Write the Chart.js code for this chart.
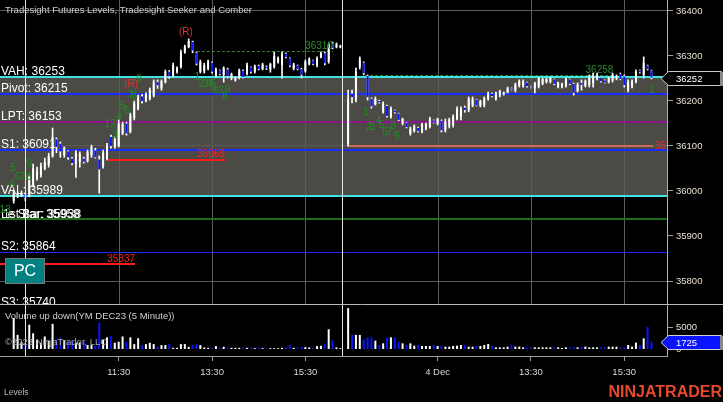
<!DOCTYPE html>
<html>
<head>
<meta charset="utf-8">
<script src="https://cdn.jsdelivr.net/npm/chart.js@4.4.1/dist/chart.umd.min.js"></script>
<style>
  html, body { margin: 0; padding: 0; background: #000; overflow: hidden; }
  canvas { display: block; }
</style>
</head>
<body>
<canvas id="chart" width="723" height="402"></canvas>
<script>
// YM DEC23, 5 minute bars, two sessions (bar index 24 = 11:30 of day one)
const sessions = [[-3, 81], [83, 161]];

const opens = [
  35978,35990,35990,35993,35988,36012,36028,36035,36050,36058,36078,36115,36105,36080,36088,36072,36060,36065,36072,36067,
  36080,36090,36070,36055,36072,36120,36098,36100,36128,36150,36132,36162,36183,36210,36200,36205,36212,36242,36228,36242,
  36265,36256,36265,36276,36308,36320,36331,36307,36265,36266,36272,36285,36256,36268,36258,36270,36250,36246,36251,36267,
  36260,36275,36265,36278,36271,36276,36270,36276,36286,36280,36305,36295,36272,36279,36271,36266,36283,36290,36280,36297,
  36306,36287,36328,36320,36320,
  36105,36216,36202,36275,36285,36256,36205,36193,36200,36176,36189,36165,36179,36172,36150,36152,36127,36133,36140,36131,
  36138,36142,36157,36150,36156,36135,36145,36147,36160,36165,36185,36180,36190,36203,36190,36192,36205,36216,36205,36212,
  36215,36219,36228,36224,36235,36234,36241,36232,36228,36232,36238,36242,36243,36248,36231,36232,36234,36248,36238,36222,
  36240,36234,36236,36240,36250,36252,36246,36242,36245,36250,36260,36255,36225,36232,36244,36268,36258,36279,36268
];
const highs = [
  36000,35998,36000,35995,36035,36060,36053,36062,36073,36084,36140,36118,36109,36098,36090,36075,36090,36087,36075,36091,
  36102,36095,36078,36091,36106,36124,36120,36158,36153,36153,36173,36200,36213,36215,36218,36229,36247,36247,36247,36269,
  36268,36284,36276,36313,36324,36338,36333,36309,36291,36284,36291,36287,36273,36269,36276,36273,36262,36253,36271,36269,
  36284,36276,36280,36280,36284,36278,36284,36309,36298,36309,36307,36296,36284,36280,36273,36291,36296,36291,36298,36309,
  36309,36329,36331,36329,36324,
  36224,36224,36273,36298,36287,36258,36207,36209,36202,36198,36191,36187,36180,36173,36162,36153,36142,36147,36142,36151,
  36151,36164,36158,36162,36158,36160,36162,36169,36187,36187,36189,36209,36209,36204,36202,36209,36220,36218,36220,36224,
  36220,36231,36229,36240,36247,36247,36242,36233,36242,36253,36251,36251,36253,36249,36242,36240,36251,36249,36240,36240,
  36247,36247,36258,36262,36262,36253,36247,36253,36262,36258,36262,36258,36247,36247,36269,36269,36298,36280,36269
];
const lows = [
  35973,35985,35988,35978,35987,36009,36024,36031,36047,36053,36075,36085,36075,36075,36070,36058,36030,36053,36062,36064,
  36075,36073,35995,36051,36069,36095,36095,36098,36125,36124,36129,36158,36180,36195,36198,36202,36209,36228,36224,36240,
  36250,36253,36262,36273,36306,36318,36307,36280,36262,36262,36269,36262,36253,36258,36242,36251,36247,36244,36249,36251,
  36258,36262,36262,36269,36269,36270,36264,36273,36284,36251,36296,36276,36269,36269,36251,36264,36280,36280,36276,36296,
  36280,36284,36316,36318,36318,
  36100,36196,36198,36271,36258,36202,36184,36191,36195,36173,36164,36162,36173,36156,36147,36140,36124,36131,36131,36129,
  36136,36140,36151,36147,36131,36131,36140,36142,36158,36158,36175,36176,36187,36189,36187,36187,36202,36209,36202,36209,
  36213,36218,36224,36220,36231,36231,36231,36229,36218,36229,36236,36240,36240,36236,36229,36229,36231,36236,36213,36220,
  36224,36231,36231,36231,36247,36242,36240,36240,36242,36247,36247,36231,36220,36229,36240,36262,36251,36269,36249
];
const closes = [
  35995,35995,35996,35985,36030,36050,36045,36055,36065,36078,36120,36098,36088,36095,36075,36062,36085,36082,36065,36086,
  36098,36075,36048,36085,36100,36100,36115,36150,36148,36128,36168,36195,36208,36200,36215,36225,36242,36235,36244,36265,
  36255,36280,36273,36308,36320,36333,36312,36283,36287,36280,36288,36265,36270,36260,36273,36255,36260,36251,36268,36253,
  36280,36265,36277,36271,36281,36273,36282,36300,36295,36305,36298,36279,36281,36271,36258,36288,36293,36282,36295,36306,
  36284,36325,36318,36326,36322,
  36205,36209,36265,36293,36262,36209,36188,36205,36197,36195,36167,36183,36175,36158,36160,36142,36138,36144,36133,36148,
  36149,36160,36152,36160,36135,36155,36158,36165,36182,36183,36180,36205,36205,36190,36200,36205,36217,36211,36218,36222,
  36219,36228,36225,36236,36244,36243,36233,36230,36240,36250,36249,36249,36251,36238,36240,36238,36248,36238,36218,36236,
  36236,36244,36253,36256,36258,36244,36241,36251,36258,36256,36249,36235,36242,36244,36265,36264,36285,36271,36252
];
const volumes = [
  7000,3250,1700,1000,5500,3600,2100,1500,2900,1960,5700,2260,2650,2100,1730,2100,1500,1500,1730,980,
  980,830,5900,2100,2700,2900,1500,1730,2900,1730,2700,1200,2500,980,1200,1500,1200,600,980,980,
  1280,380,380,1200,1200,600,980,1200,980,450,380,380,750,380,600,380,380,380,380,380,
  380,380,300,380,300,300,300,300,300,380,450,980,380,450,530,530,450,380,750,830,
  1200,4500,2000,450,300,
  9200,3250,3250,3250,2260,2700,2700,1960,1000,1370,2700,2700,2700,1740,1370,1000,1370,850,1000,780,
  780,780,1000,780,850,630,630,780,850,1000,1000,630,630,780,780,1000,1220,780,480,480,
  480,630,1000,630,630,480,480,480,480,480,480,480,480,480,480,330,480,480,480,480,
  630,630,480,480,480,480,480,630,630,630,480,480,1000,630,1520,1000,2480,5070,1725
];

const timeTicks = [24, 48, 72, 106, 130, 154];
const timeLabels = ['11:30', '13:30', '15:30', '4 Dec', '13:30', '15:30'];
const priceTicks = [35800,35850,35900,35950,36000,36050,36100,36150,36200,36250,36300,36350,36400];
const priceGrid = [35800, 35950, 36100, 36250, 36400];
const volumeTicks = [0, 5000];

// Tradesight levels
const levelNames = ['VAH', 'Pivot', 'LPT', 'S1', 'VAL', 'S2', 'S3'];
const levelValues = [36253, 36215, 36153, 36091, 35989, 35864, 35740];
const levelColors = ['#3fe3e3', '#1a2cff', '#8c148c', '#1a2cff', '#3fe3e3', '#1a2cff', '#1a2cff'];
const levelWidths = [2, 2, 2, 2, 2, 1, 1];
const lowLevel = 35938;

// seeker / comber marker lines: [value, fromIndex, toIndex]
const dashedMarks = [[36310, 44.1, 79.1], [36258, 87.4, 151.2]];
const redMarks = [[36069, 21.3, 51.3], [35837, -6.6, 28.2]];
const salmonMark = [36100, 82.7, 161.4];

// count numbers: [text, bar index, price]
const counts = [
  ['13', -5.2, 35958], ['4', -3.4, 36016], ['5', -3.2, 36051], ['678', -0.6, 36031], ['9', 1.0, 36060],
  ['12', 21.8, 36148], ['3', 23.0, 36123], ['4', 24.1, 36164], ['5', 25.0, 36189], ['6', 26.1, 36178],
  ['7', 27.1, 36213], ['8', 28.0, 36210], ['9', 29.2, 36249],
  ['1', 44.2, 36253], ['2', 45.3, 36237], ['3', 46.3, 36237], ['4', 47.3, 36237], ['5', 48.4, 36237],
  ['6', 49.1, 36222], ['7', 50.4, 36222], ['8', 51.3, 36211], ['9', 52.0, 36224],
  ['1', 87.6, 36176], ['2', 88.4, 36141], ['3', 89.3, 36141], ['4', 90.8, 36156], ['5', 91.6, 36147],
  ['6', 92.5, 36130], ['7', 93.6, 36130], ['8', 94.6, 36143], ['9', 95.5, 36122], ['1', 161.05, 36223]
];
const reversals = [[27.2, 36238], [41.3, 36353]];

// build bar series
const barIdx = [];
sessions.forEach(([a, b]) => { for (let i = a; i <= b; i++) barIdx.push(i); });
const isUp = barIdx.map((x, i) => closes[i] >= opens[i]);
const wickData = barIdx.map((x, i) => ({ x, y: [lows[i], highs[i]] }));
const bodyData = barIdx.map((x, i) => ({ x, y: [Math.min(opens[i], closes[i]), Math.max(opens[i], closes[i])] }));
const volData = barIdx.map((x, i) => ({ x, y: volumes[i] }));
const UPC = '#ffffff', DNC = '#0a14ff';

const FONT = '"Liberation Sans", Arial, sans-serif';

// scales: fixed size, no label overflow padding so the plot fills 0..667 x 0..356
const fitY = s => { s.width = 56; s.paddingTop = 0; s.paddingBottom = 0; };
const fitX = s => { s.height = 46; s.paddingLeft = 0; s.paddingRight = 0; };

const overlay = {
  id: 'overlay',
  beforeDraw(chart) {
    const c = chart.ctx, a = chart.chartArea, y = chart.scales.y;
    c.save();
    c.fillStyle = '#000';
    c.fillRect(0, 0, chart.width, chart.height);
    // value area
    const t = y.getPixelForValue(levelValues[0]), b = y.getPixelForValue(levelValues[4]);
    c.fillStyle = '#4b4a45';
    c.fillRect(a.left, t, a.right - a.left, b - t);
    c.restore();
  },
  beforeDatasetsDraw(chart) {
    const c = chart.ctx, a = chart.chartArea, x = chart.scales.x, y = chart.scales.y;
    c.save();
    c.beginPath(); c.rect(a.left, y.top, a.right - a.left, y.bottom - y.top); c.clip();
    // vertical grid in price panel
    c.strokeStyle = '#5c5c5c'; c.lineWidth = 1;
    timeTicks.forEach(v => {
      const px = Math.round(x.getPixelForValue(v)) + 0.5;
      c.beginPath(); c.moveTo(px, y.top); c.lineTo(px, y.bottom); c.stroke();
    });
    const hline = (v, x0, x1, col, w, dash) => {
      const py = Math.round(y.getPixelForValue(v)) + (w % 2 ? 0.5 : 0);
      c.strokeStyle = col; c.lineWidth = w; c.setLineDash(dash || []);
      c.beginPath(); c.moveTo(x0, py); c.lineTo(x1, py); c.stroke();
      c.setLineDash([]);
    };
    levelValues.forEach((v, i) => hline(v, a.left, a.right, levelColors[i], levelWidths[i]));
    hline(lowLevel, a.left, a.right, '#1a6e1a', 2);
    dashedMarks.forEach(m => hline(m[0], x.getPixelForValue(m[1]), x.getPixelForValue(m[2]), '#2a8a2a', 1, [3, 2]));
    redMarks.forEach(m => hline(m[0], x.getPixelForValue(m[1]), x.getPixelForValue(m[2]), '#ff1a1a', 2));
    hline(salmonMark[0], x.getPixelForValue(salmonMark[1]), x.getPixelForValue(salmonMark[2]), '#d06a5a', 2);
    c.restore();
  },
  afterDatasetsDraw(chart) {
    const c = chart.ctx, a = chart.chartArea, x = chart.scales.x, y = chart.scales.y;
    c.save();
    // session breaks
    c.strokeStyle = '#e8e8e8'; c.lineWidth = 1;
    [-0.1, 81.5].forEach(v => {
      const px = Math.round(x.getPixelForValue(v)) + 0.5;
      c.beginPath(); c.moveTo(px, a.top); c.lineTo(px, a.bottom); c.stroke();
    });
    c.beginPath(); c.rect(a.left, y.top, a.right - a.left, y.bottom - y.top); c.clip();
    // level labels
    c.font = '12px ' + FONT; c.fillStyle = '#ffffff'; c.textAlign = 'left'; c.textBaseline = 'alphabetic';
    levelNames.forEach((n, i) => {
      c.fillText(n + ': ' + levelValues[i], 1, Math.round(y.getPixelForValue(levelValues[i])) - 2);
    });
    const ly = Math.round(y.getPixelForValue(lowLevel)) - 1.5;
    c.fillText('Le Star: 35958', 1, ly);
    c.fillText('1st Bar: 35938', 3, ly);
    // marker labels
    c.font = '10px ' + FONT; c.textAlign = 'right'; c.textBaseline = 'bottom';
    c.fillStyle = '#2a8a2a';
    dashedMarks.forEach(m => c.fillText(String(m[0]), x.getPixelForValue(m[2]), y.getPixelForValue(m[0])));
    c.fillStyle = '#ff2020';
    redMarks.forEach(m => c.fillText(String(m[0]), x.getPixelForValue(m[2]), y.getPixelForValue(m[0]) - 0.5));
    c.textAlign = 'left'; c.textBaseline = 'middle';
    c.fillText(String(salmonMark[0]), x.getPixelForValue(salmonMark[2]) + 2, y.getPixelForValue(salmonMark[0]));
    // counts
    c.textAlign = 'center'; c.fillStyle = '#1f8f1f';
    counts.forEach(k => c.fillText(k[0], x.getPixelForValue(k[1]), y.getPixelForValue(k[2])));
    c.fillStyle = '#ee2a2a';
    reversals.forEach(r => c.fillText('(R)', x.getPixelForValue(r[0]), y.getPixelForValue(r[1])));
    // PC box
    c.fillStyle = '#008080'; c.fillRect(5, 258, 40, 26);
    c.strokeStyle = '#7a7a7a'; c.lineWidth = 1; c.strokeRect(5.5, 258.5, 39, 25);
    c.fillStyle = '#ffffff'; c.font = '16px ' + FONT; c.textBaseline = 'middle';
    c.fillText('PC', 25, 272);
    c.restore();
  },
  afterDraw(chart) {
    const c = chart.ctx, y = chart.scales.y, yv = chart.scales.yv;
    c.save();
    // panel separator
    c.strokeStyle = '#b8b8b8'; c.lineWidth = 1;
    c.beginPath(); c.moveTo(0, y.bottom + 0.5); c.lineTo(chart.width, y.bottom + 0.5); c.stroke();
    // titles
    c.font = '9.5px ' + FONT; c.textAlign = 'left'; c.textBaseline = 'middle';
    c.fillStyle = '#cfcfcf';
    c.fillText('Tradesight Futures Levels, Tradesight Seeker and Comber', 5, 10);
    c.fillText('Volume up down(YM DEC23 (5 Minute))', 5, 316);
    c.fillStyle = '#a8a8a8';
    c.fillText('\u00A92023 NinjaTrader, LLC', 5, 342);
    c.font = '8.5px ' + FONT; c.fillStyle = '#bdbdbd';
    c.fillText('Levels', 4, 393);
    // last price / last volume flags
    const flag = (py, txt, fill, border) => {
      py = Math.round(py);
      c.beginPath();
      c.moveTo(661, py + 0.5); c.lineTo(668.5, py - 6.5); c.lineTo(721.5, py - 6.5);
      c.lineTo(721.5, py + 7.5); c.lineTo(668.5, py + 7.5); c.closePath();
      c.fillStyle = fill; c.fill();
      c.strokeStyle = border; c.lineWidth = 1; c.stroke();
      c.fillStyle = '#8a8a8a'; c.fillRect(720, py - 6, 3, 14);
      c.fillStyle = '#ffffff'; c.font = '9.5px ' + FONT; c.textBaseline = 'middle';
      c.fillText(txt, 676, py + 1);
    };
    flag(y.getPixelForValue(closes[closes.length - 1]), String(closes[closes.length - 1]), '#000000', '#c8c8c8');
    flag(yv.getPixelForValue(volumes[volumes.length - 1]), String(volumes[volumes.length - 1]), '#0a14ff', '#d0d0d0');
    // logo
    c.font = 'bold 16px ' + FONT; c.fillStyle = '#e8482c'; c.textAlign = 'right'; c.textBaseline = 'alphabetic';
    c.fillText('NINJATRADER', 722, 397);
    c.restore();
  }
};

const tickFont = { family: FONT, size: 9.5 };

new Chart(document.getElementById('chart'), {
  type: 'bar',
  data: {
    datasets: [
      { data: bodyData, yAxisID: 'y', backgroundColor: isUp.map(u => u ? UPC : DNC), barThickness: 2, inflateAmount: 0, grouped: false, order: 1, minBarLength: 1 },
      { data: wickData, yAxisID: 'y', backgroundColor: UPC, barThickness: 1, grouped: false, order: 2 },
      { data: volData, yAxisID: 'yv', backgroundColor: isUp.map(u => u ? UPC : DNC), barThickness: 2, inflateAmount: 0, grouped: false, order: 3 }
    ]
  },
  options: {
    responsive: false,
    animation: false,
    devicePixelRatio: 1,
    layout: { padding: 0 },
    plugins: { legend: { display: false }, tooltip: { enabled: false } },
    scales: {
      x: {
        type: 'linear', min: -6.52, max: 164.99, offset: false,
        grid: { drawOnChartArea: false, tickLength: 5, tickColor: '#9a9a9a', offset: false },
        border: { color: '#a0a0a0' },
        afterBuildTicks: s => { s.ticks = timeTicks.map(v => ({ value: v })); },
        ticks: { callback: (v, i) => timeLabels[i], color: '#d8d8d8', font: tickFont, padding: 6, maxRotation: 0, autoSkip: false },
        afterFit: fitX
      },
      y: {
        type: 'linear', position: 'right', stack: 'panels', stackWeight: 304,
        min: 35748.89, max: 36424.44,
        afterBuildTicks: s => { s.ticks = priceTicks.map(v => ({ value: v })); },
        grid: { color: c => (c.tick && priceGrid.includes(c.tick.value)) ? '#5c5c5c' : 'rgba(0,0,0,0)', tickLength: 6, tickColor: '#9a9a9a' },
        border: { color: '#b0b0b0' },
        ticks: { callback: v => String(v), color: '#eadfcf', font: tickFont, padding: 3 },
        afterFit: fitY
      },
      yv: {
        type: 'linear', position: 'right', stack: 'panels', stackWeight: 52,
        min: -1444, max: 10111,
        afterBuildTicks: s => { s.ticks = volumeTicks.map(v => ({ value: v })); },
        grid: { color: 'rgba(0,0,0,0)', tickLength: 6, tickColor: '#9a9a9a' },
        border: { color: '#b0b0b0' },
        ticks: { callback: v => String(v), color: '#eadfcf', font: tickFont, padding: 3 },
        afterFit: fitY
      }
    }
  },
  plugins: [overlay]
});
</script>
</body>
</html>
